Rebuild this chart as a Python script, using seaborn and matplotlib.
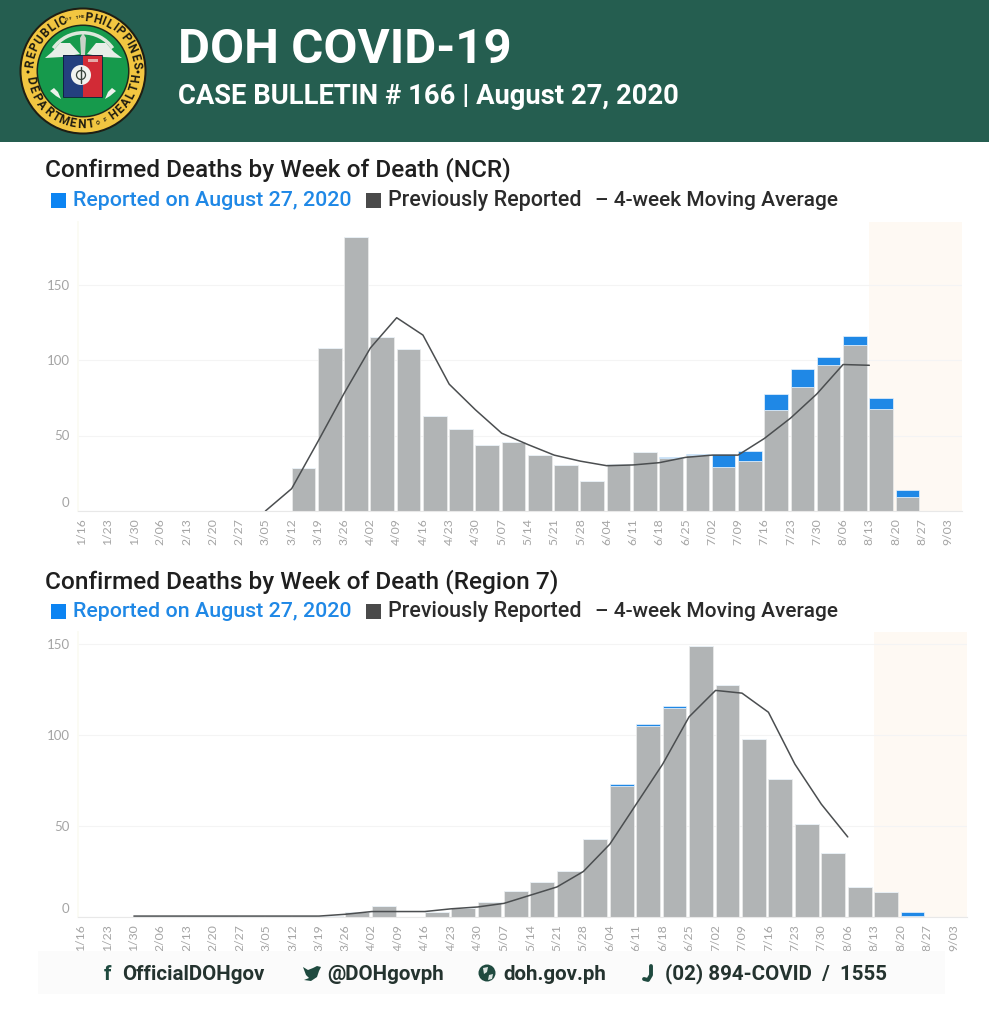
#!/usr/bin/env python3
import numpy as np
import pandas as pd
import matplotlib
matplotlib.use("Agg")
import matplotlib.pyplot as plt
import matplotlib.transforms as mtrans
import seaborn as sns
from matplotlib.patches import Circle, Polygon, Rectangle, Wedge

W, H = 989, 1024

weeks = ["1/16", "1/23", "1/30", "2/06", "2/13", "2/20", "2/27", "3/05", "3/12",
         "3/19", "3/26", "4/02", "4/09", "4/16", "4/23", "4/30", "5/07", "5/14",
         "5/21", "5/28", "6/04", "6/11", "6/18", "6/25", "7/02", "7/09", "7/16",
         "7/23", "7/30", "8/06", "8/13", "8/20", "8/27", "9/03"]

ncr_prev = [0, 0, 0, 0, 0, 0, 0, 0, 28.5, 108, 181.5, 115.5, 107, 63, 54, 44, 46, 37,
            30.5, 20, 31, 39, 35, 37, 29, 33, 67, 82, 97, 110, 67.5, 9, 0, 0]
ncr_new = [0, 0, 0, 0, 0, 0, 0, 0, 0, 0, 0, 0, 0, 0, 0, 0, 0, 0,
           0, 0, 0, 0, 1, 1, 8.5, 7, 10.5, 12, 5, 6, 7.5, 5, 0, 0]
ncr_avg = [np.nan] * 7 + [0, 14.8, 46, 78, 108, 128, 116.5, 84, 67, 51.5, 44, 37, 33,
                          30, 30.5, 32, 35.5, 37, 37, 48, 61.5, 77.5, 97, 96.5,
                          np.nan, np.nan, np.nan]

r7_prev = [0, 0, 0.6, 0.5, 0.4, 0.4, 0.4, 0.4, 0.4, 0.4, 3, 6, 0, 2.5, 5, 8, 14.5, 19,
           25.5, 43, 72, 105, 115, 149, 127.5, 98, 76, 51, 35, 16.5, 13.5, 0.6, 0, 0]
r7_new = [0, 0, 0, 0, 0, 0, 0, 0, 0, 0, 0, 0, 0, 0, 0, 0, 0, 0,
          0, 0, 1, 1, 1, 0, 0, 0, 0, 0, 0, 0, 0, 2.4, 0, 0]
r7_avg = [np.nan, np.nan, 0.5, 0.5, 0.5, 0.5, 0.5, 0.5, 0.5, 0.5, 1.5, 3, 3, 3, 4.5,
          5.5, 7.5, 12, 16.5, 25, 40, 62, 84, 110, 124.5, 123, 112.5, 84, 62, 44,
          np.nan, np.nan, np.nan, np.nan]

y_ticks = [0, 50, 100, 150]
title_ncr = "Confirmed Deaths by Week of Death (NCR)"
title_r7 = "Confirmed Deaths by Week of Death (Region 7)"

GREEN = "#255E50"
GRAY = "#B1B4B5"
BLUE = "#1F88E6"
LINE = "#4B4E50"
TICK = "#A4A4A4"

sns.set_theme(style="white")
plt.rcParams["font.family"] = ["Roboto", "DejaVu Sans"]
plt.rcParams["axes.unicode_minus"] = False

fig = plt.figure(figsize=(W / 100, H / 100), dpi=100, facecolor="white")


def draw_chart(box, xlim, ymax, prev, new, avg):
    left, top, right, bottom = box
    ax = fig.add_axes([left / W, 1 - bottom / H, (right - left) / W, (bottom - top) / H])
    df = pd.DataFrame({"week": weeks, "prev": prev, "new": new, "avg": avg})
    df["pos"] = np.arange(len(df)) - 0.45

    ax.axvspan(df["pos"][30], xlim[1], color="#FEF9F3", lw=0, zorder=0)
    sns.barplot(data=df, x="week", y="prev", color=GRAY, saturation=1, width=0.9,
                edgecolor="#ECEDED", linewidth=0.5, ax=ax)
    sns.barplot(data=df, x="week", y="new", bottom=df["prev"], color=BLUE, saturation=1,
                width=0.9, edgecolor="#EAF3FB", linewidth=0.5, ax=ax)
    sns.lineplot(data=df.dropna(subset=["avg"]), x="pos", y="avg", color=LINE, lw=1.1,
                 estimator=None, errorbar=None, ax=ax)

    ax.set_xlim(*xlim)
    ax.set_ylim(0, ymax)
    ax.set_xlabel("")
    ax.set_ylabel("")
    ax.set_xticks(df["pos"], weeks, rotation=90, fontsize=8.8, color=TICK,
                  fontfamily="Lato")
    ax.set_yticks(y_ticks, [str(v) for v in y_ticks], fontsize=9.5, color=TICK,
                  fontfamily="Lato")
    ax.tick_params(axis="x", length=0, pad=5)
    ax.tick_params(axis="y", length=0, pad=6)
    zero = ax.yaxis.get_major_ticks()[0].label1
    zero.set_va("bottom")
    zero.set_transform(zero.get_transform() + mtrans.Affine2D().translate(0, 2))

    ax.set_axisbelow(True)
    ax.grid(axis="y", color="#F4F4F4", lw=0.8)
    ax.grid(axis="x", visible=False)
    for side in ("top", "right"):
        ax.spines[side].set_visible(False)
    ax.spines["left"].set_color("#FBFBF3")
    ax.spines["bottom"].set_color("#E8E8E8")
    ax.spines["bottom"].set_linewidth(0.8)
    return ax


draw_chart((78, 222, 962, 511), (-0.587, 33.08), (511 - 222) / 1.51, ncr_prev, ncr_new, ncr_avg)
draw_chart((78, 632, 967, 917), (-0.563, 33.06), (917 - 632) / 1.82, r7_prev, r7_new, r7_avg)

# overlay in pixel coordinates for the header, titles, legend keys and footer
ov = fig.add_axes([0, 0, 1, 1], facecolor="none")
ov.set_xlim(0, W)
ov.set_ylim(H, 0)
ov.set_axis_off()

ov.add_patch(Rectangle((0, 0), W, 142, color=GREEN, lw=0))
ov.text(178, 50, "DOH COVID-19", color="white", fontsize=35.5, fontweight="bold",
        va="center", ha="left")
ov.text(178, 96, "CASE BULLETIN # 166 | August 27, 2020", color="white", fontsize=19.7,
        fontweight="bold", va="center", ha="left")


def arc_text(s, cx, cy, r, a0, a1, top=True, **kw):
    # narrow letters get less of the arc
    w = np.array([0.45 if ch in "I" else 1.0 for ch in s])
    steps = np.cumsum((w[:-1] + w[1:]) / 2)
    angs = a0 + (a1 - a0) * np.concatenate([[0], steps]) / steps[-1]
    for ch, ang in zip(s, angs):
        t = np.deg2rad(ang)
        rot = ang - 90 if top else ang + 90
        ov.text(cx + r * np.cos(t), cy - r * np.sin(t), ch, rotation=rot, ha="center",
                va="center", rotation_mode="anchor", **kw)


# logo
cx, cy = 83, 71
ov.add_patch(Circle((cx, cy), 63.5, color="#1E1E14", lw=0))
ov.add_patch(Circle((cx, cy), 61.5, color="#F2C641", lw=0))
ov.add_patch(Circle((cx, cy), 46.5, color="#1E2A1A", lw=0))
ov.add_patch(Circle((cx, cy), 45, color="#169A4C", lw=0))
seal = dict(color="#1C1A10", fontsize=8.6, fontweight="bold")
arc_text("REPUBLIC", cx, cy, 53.5, 172, 112, **seal)
arc_text("PHILIPPINES", cx, cy, 53.5, 84, 6, **seal)
arc_text("OF THE", cx, cy, 54, 107, 90, color="#1C1A10", fontsize=3, fontweight="bold")
arc_text("DEPARTMENT", cx, cy, 53.5, 190, 278, top=False, **seal)
arc_text("OF", cx, cy, 54, 286, 294, top=False, color="#1C1A10", fontsize=4, fontweight="bold")
arc_text("HEALTH", cx, cy, 53.5, 305, 352, top=False, **seal)
ov.add_patch(Circle((cx - 55, cy + 1), 1.5, color="#1C1A10", lw=0))
ov.add_patch(Circle((cx + 55, cy + 1), 1.5, color="#1C1A10", lw=0))
# wings and staff
ov.add_patch(Polygon([(80, 54), (70, 43), (60, 43), (52, 52), (45, 58), (62, 57)],
                     color="#E8EEE8", lw=0))
ov.add_patch(Polygon([(87, 54), (96, 43), (106, 43), (114, 52), (122, 58), (104, 57)],
                     color="#E8EEE8", lw=0))
ov.add_patch(Polygon([(81, 55), (80, 38), (83, 33), (86, 38), (85, 55)], color="#C9D2C8", lw=0))
# shield
ov.add_patch(Rectangle((63, 55), 20, 42, color="#24407F", lw=0))
ov.add_patch(Rectangle((83, 55), 19, 42, color="#D22B36", lw=0))
ov.add_patch(Rectangle((63, 55), 39, 42, fill=False, ec="#0E1B3A", lw=0.6))
ov.add_patch(Rectangle((88, 59), 10, 3, color="#E5A9A8", lw=0))
ov.add_patch(Circle((cx - 2, 75), 10, color="#F1F3F0", lw=0))
ov.add_patch(Circle((cx - 2, 75), 4.5, fill=False, ec="#36423A", lw=0.9))
ov.plot([cx - 2, cx - 2], [67, 83], color="#36423A", lw=1)
# ribbon
ov.add_patch(Wedge((cx, cy - 2), 38, 215, 325, width=3.5, color="#DDE8DC", lw=0))
ov.add_patch(Polygon([(50, 91), (56, 96), (61, 99), (58, 92), (54, 88)], color="#EDF2EC", lw=0))
ov.add_patch(Polygon([(116, 91), (110, 96), (105, 99), (108, 92), (112, 88)], color="#EDF2EC", lw=0))


def section(y_title, y_leg, title):
    ov.text(45, y_title, title, color="#1F1F1F", fontsize=17.6, fontweight="medium",
            va="center", ha="left")
    base = y_leg + 6
    ov.add_patch(Rectangle((51, y_leg - 7), 15, 15, color="#0C84F2", lw=0))
    ov.text(73, base, "Reported on August 27, 2020", color=BLUE, fontsize=15.4,
            fontweight="medium", va="baseline", ha="left")
    ov.add_patch(Rectangle((366, y_leg - 7), 15, 15, color="#4A4A4A", lw=0))
    ov.text(388, base, "Previously Reported", color="#2B2B2B", fontsize=15.5,
            fontweight="medium", va="baseline", ha="left")
    ov.text(595, base, "– 4-week Moving Average", color="#2B2B2B", fontsize=15.05,
            fontweight="medium", va="baseline", ha="left")


section(170, 200, title_ncr)
section(582, 611, title_r7)

# footer
ov.add_patch(Rectangle((38, 951), 907, 43, color="#FBFBFB", lw=0))
FOOT = "#24332F"
for x, s in [(122, "OfficialDOHgov"), (327, "@DOHgovph"), (503, "doh.gov.ph"),
             (665, "(02) 894-COVID  /  1555")]:
    ov.text(x, 974, s, color=FOOT, fontsize=14.8, fontweight="bold", va="center", ha="left")
ov.text(108, 974, "f", color="#1F4A3F", fontsize=15, fontweight="bold", va="center", ha="center")
ov.add_patch(Polygon([(303, 967), (308, 970), (313, 968), (317, 966), (321, 967), (319, 971),
                      (317, 977), (311, 981), (304, 980), (309, 978), (306, 975)],
                     color="#1F4A3F", lw=0))
ov.add_patch(Circle((487, 973), 8.5, color="#1F4A3F", lw=0))
ov.add_patch(Polygon([(483, 968), (488, 967), (487, 972), (484, 974)], color="#DDE6E2", lw=0))
ov.add_patch(Polygon([(489, 975), (493, 974), (492, 979), (488, 980)], color="#DDE6E2", lw=0))
ov.plot([651, 651, 648, 644], [966, 975, 980, 979], color="#1F4A3F", lw=2.8,
        solid_capstyle="round")

fig.savefig("out.png", dpi=100, facecolor="white")
